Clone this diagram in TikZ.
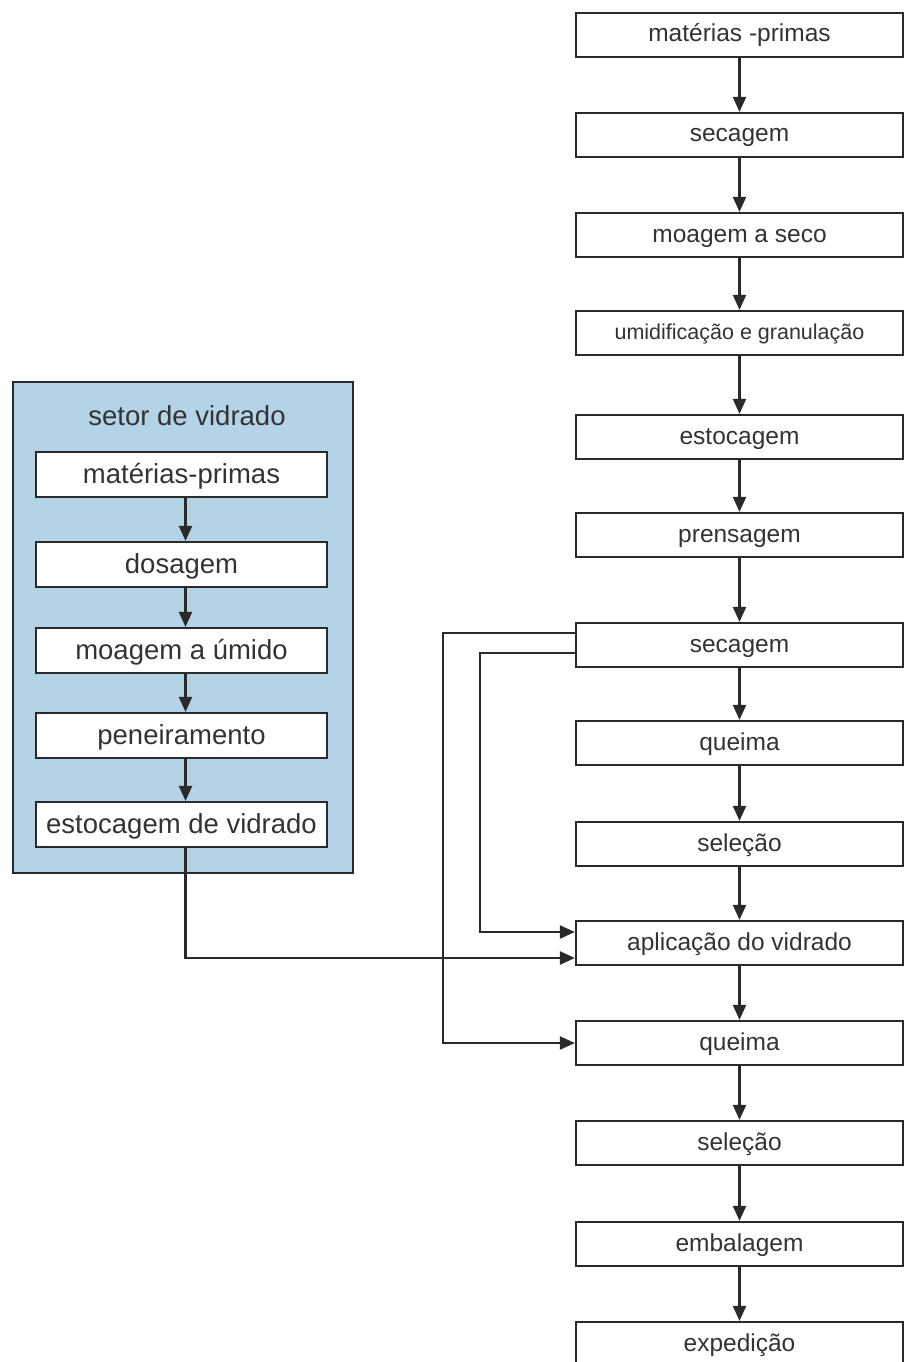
\documentclass[tikz,border=0pt]{standalone}
\usepackage{fontspec}
\setmainfont{Liberation Sans}
\usetikzlibrary{positioning, calc, arrows.meta}
\definecolor{linha}{HTML}{2A2A2A}
\definecolor{vidro}{HTML}{B4D3E6}
\definecolor{texto}{HTML}{333333}
\tikzset{
  etapa/.style={draw=linha, line width=2.2pt, fill=white, text=texto, minimum width=327pt, minimum height=44pt, inner sep=0pt, text height=18pt, text depth=4pt, font=\fontsize{24.5}{28}\selectfont},
  etapav/.style={etapa, minimum width=291pt, minimum height=45pt, text height=20pt, text depth=3pt, font=\fontsize{27.5}{32}\selectfont},
  fluxo/.style={draw=linha, line width=2.2pt, -{Triangle[length=15pt,width=13pt]}},
}

\begin{document}
\begin{tikzpicture}[x=1pt, y=-1pt]
    \useasboundingbox (0,0) rectangle (905,1362);
    % setor de vidrado
    \node[draw=linha, line width=2.6pt, fill=vidro, minimum width=340pt, minimum height=491pt] (setor) at (183,627.5) {};
    \node[text=texto, font=\fontsize{27.5}{32}\selectfont] (titulo) at (187,416) {setor de vidrado};
    \node[etapav] (vmp) at (181.5,474.5) {matérias-primas};
    \node[etapav] (vdo) at (181.5,564.5) {dosagem};
    \node[etapav] (vmo) at (181.5,650.5) {moagem a úmido};
    \node[etapav] (vpe) at (181.5,735.5) {peneiramento};
    \node[etapav] (vev) at (181.5,824.5) {estocagem de vidrado};
    \draw[fluxo] ([xshift=4pt]vmp.south) -- ([xshift=4pt]vdo.north);
    \draw[fluxo] ([xshift=4pt]vdo.south) -- ([xshift=4pt]vmo.north);
    \draw[fluxo] ([xshift=4pt]vmo.south) -- ([xshift=4pt]vpe.north);
    \draw[fluxo] ([xshift=4pt]vpe.south) -- ([xshift=4pt]vev.north);
    % linha principal
    \node[etapa] (mp) at (739.5,35) {matérias -primas};
    \node[etapa] (sc1) at (739.5,135) {secagem};
    \node[etapa] (mo) at (739.5,235) {moagem a seco};
    \node[etapa, text height=16pt, text depth=4pt, font=\fontsize{21.5}{25}\selectfont] (ug) at (739.5,333) {umidificação e granulação};
    \node[etapa] (es) at (739.5,437) {estocagem};
    \node[etapa] (pr) at (739.5,535) {prensagem};
    \node[etapa] (sc2) at (739.5,645) {secagem};
    \node[etapa] (qm1) at (739.5,743) {queima};
    \node[etapa] (se1) at (739.5,844) {seleção};
    \node[etapa] (ap) at (739.5,943) {aplicação do vidrado};
    \node[etapa] (qm2) at (739.5,1043) {queima};
    \node[etapa] (se2) at (739.5,1143) {seleção};
    \node[etapa] (em) at (739.5,1244) {embalagem};
    \node[etapa] (ex) at (739.5,1344) {expedição};
    \draw[fluxo] (mp) -- (sc1);
    \draw[fluxo] (sc1) -- (mo);
    \draw[fluxo] (mo) -- (ug);
    \draw[fluxo] (ug) -- (es);
    \draw[fluxo] (es) -- (pr);
    \draw[fluxo] (pr) -- (sc2);
    \draw[fluxo] (sc2) -- (qm1);
    \draw[fluxo] (qm1) -- (se1);
    \draw[fluxo] (se1) -- (ap);
    \draw[fluxo] (ap) -- (qm2);
    \draw[fluxo] (qm2) -- (se2);
    \draw[fluxo] (se2) -- (em);
    \draw[fluxo] (em) -- (ex);
    % ligacoes laterais
    \draw[fluxo] ($(sc2.west)+(0,-12)$) -- ++(-132,0) |- (qm2.west);
    \draw[fluxo] ($(sc2.west)+(0,8)$) -- ++(-95,0) |- ($(ap.west)+(0,-11)$);
    \draw[fluxo] ([xshift=4pt]vev.south) |- ($(ap.west)+(0,15)$);
\end{tikzpicture}
\end{document}
